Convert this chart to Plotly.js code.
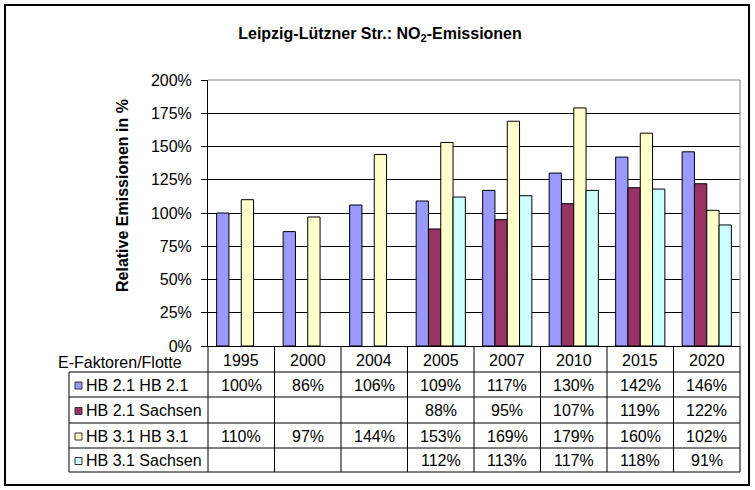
<!DOCTYPE html>
<html>
<head>
<meta charset="utf-8">
<script src="https://cdn.plot.ly/plotly-3.0.1.min.js"></script>
<style>
html,body{margin:0;padding:0;background:#fff;}
#chart{width:755px;height:490px;}
</style>
</head>
<body>
<div id="chart"></div>
<script>
// ---- data ----
const years = ['1995','2000','2004','2005','2007','2010','2015','2020'];
const hb21_hb21 = [100, 86, 106, 109, 117, 130, 142, 146];
const hb21_sachsen = [null, null, null, 88, 95, 107, 119, 122];
const hb31_hb31 = [110, 97, 144, 153, 169, 179, 160, 102];
const hb31_sachsen = [null, null, null, 112, 113, 117, 118, 91];
const seriesNames = ['HB 2.1 HB 2.1', 'HB 2.1 Sachsen', 'HB 3.1 HB 3.1', 'HB 3.1 Sachsen'];
const yTickValues = [0, 25, 50, 75, 100, 125, 150, 175, 200];
const yTickLabels = ['0%', '25%', '50%', '75%', '100%', '125%', '150%', '175%', '200%'];
const tableHeader = 'E-Faktoren/Flotte';
const chartTitle = 'Leipzig-Lützner Str.: NO<sub>2</sub>-Emissionen';
const yTitle = 'Relative Emissionen in %';

// ---- styling ----
const seriesValues = [hb21_hb21, hb21_sachsen, hb31_hb31, hb31_sachsen];
const colors = ['#9999FF', '#993366', '#FFFFCC', '#CCFFFF'];
const FONT = 'Liberation Sans, Arial, sans-serif';
const W = 755, H = 490;
const L = 208, R = 740, T = 80, B = 346;
const px = x => (x - L) / (R - L);
const py = y => (B - y) / (B - T);

const traces = seriesValues.map((vals, i) => ({
  type: 'bar',
  name: seriesNames[i],
  x: years,
  y: vals,
  marker: {color: colors[i], line: {color: '#000', width: 1}},
  hoverinfo: 'skip'
}));

const shapes = [];
const annotations = [];
const line = (x0, y0, x1, y1, color, width) => shapes.push({
  type: 'line', xref: 'paper', yref: 'paper',
  x0: px(x0), y0: py(y0), x1: px(x1), y1: py(y1),
  line: {color: color || '#000', width: width || 1}, layer: 'above'
});

// plot-area gray border (top and right)
line(L, T, R, T, '#808080', 1);
line(R, T, R, B, '#808080', 1);

// table grid
const rowLines = [372, 397, 423, 448, 472];
rowLines.forEach(y => line(69, y, R, y));
line(69, 372, 69, 472);
const catW = (R - L) / years.length;
for (let k = 0; k <= years.length; k++) line(L + k * catW, B, L + k * catW, 472);

// outer chart border
shapes.push({type: 'rect', xref: 'paper', yref: 'paper',
  x0: px(5), y0: py(5), x1: px(749), y1: py(485),
  line: {color: '#000', width: 2}, fillcolor: 'rgba(0,0,0,0)', layer: 'above'});

const txt = (text, xref, x, y, xanchor) => annotations.push({
  text: text, xref: xref, yref: 'paper', x: x, y: py(y),
  xanchor: xanchor || 'center', yanchor: 'middle', showarrow: false,
  font: {family: FONT, size: 16, color: '#000'}
});

// header row
txt(tableHeader, 'paper', px(56), 362, 'left');
years.forEach((yr, j) => txt(yr, 'x', j, 360));

// data rows
const rowCenters = [385, 410.5, 436, 460.5];
seriesValues.forEach((vals, i) => {
  const yc = rowCenters[i];
  shapes.push({type: 'rect', xref: 'paper', yref: 'paper',
    x0: px(75), x1: px(82), y0: py(yc - 3), y1: py(yc + 4),
    fillcolor: colors[i], line: {color: '#333', width: 1}, layer: 'above'});
  txt(seriesNames[i], 'paper', px(84), yc, 'left');
  vals.forEach((v, j) => { if (v !== null) txt(v + '%', 'x', j, yc); });
});

// y axis title
annotations.push({
  text: '<b>' + yTitle + '</b>', xref: 'paper', yref: 'paper',
  x: px(122), y: py(196), xanchor: 'center', yanchor: 'middle',
  textangle: -90, showarrow: false,
  font: {family: FONT, size: 16, color: '#000'}
});

const layout = {
  width: W, height: H,
  margin: {l: L, r: W - R, t: T, b: H - B, pad: 0},
  paper_bgcolor: '#fff', plot_bgcolor: '#fff',
  showlegend: false,
  barmode: 'group', bargap: 0.26, bargroupgap: 0,
  title: {
    text: '<b>' + chartTitle + '</b>',
    x: 380 / W, xanchor: 'center', xref: 'container',
    y: 1 - 33 / H, yanchor: 'middle', yref: 'container',
    font: {family: FONT, size: 16, color: '#000'}
  },
  xaxis: {
    type: 'category', categoryarray: years, range: [-0.5, years.length - 0.5],
    showticklabels: false, ticks: '',
    showgrid: false, zeroline: false,
    showline: true, linecolor: '#000', linewidth: 1,
    fixedrange: true
  },
  yaxis: {
    range: [0, 200], tickvals: yTickValues, ticktext: yTickLabels,
    ticks: 'outside', ticklen: 6, tickcolor: '#000', tickwidth: 1,
    ticklabelstandoff: 6,
    showgrid: true, gridcolor: '#000', gridwidth: 1,
    zeroline: false, showline: true, linecolor: '#000', linewidth: 1,
    tickfont: {family: FONT, size: 16, color: '#000'},
    fixedrange: true
  },
  shapes: shapes,
  annotations: annotations,
  font: {family: FONT, color: '#000'}
};

Plotly.newPlot('chart', traces, layout, {displayModeBar: false, staticPlot: true});
</script>
</body>
</html>
